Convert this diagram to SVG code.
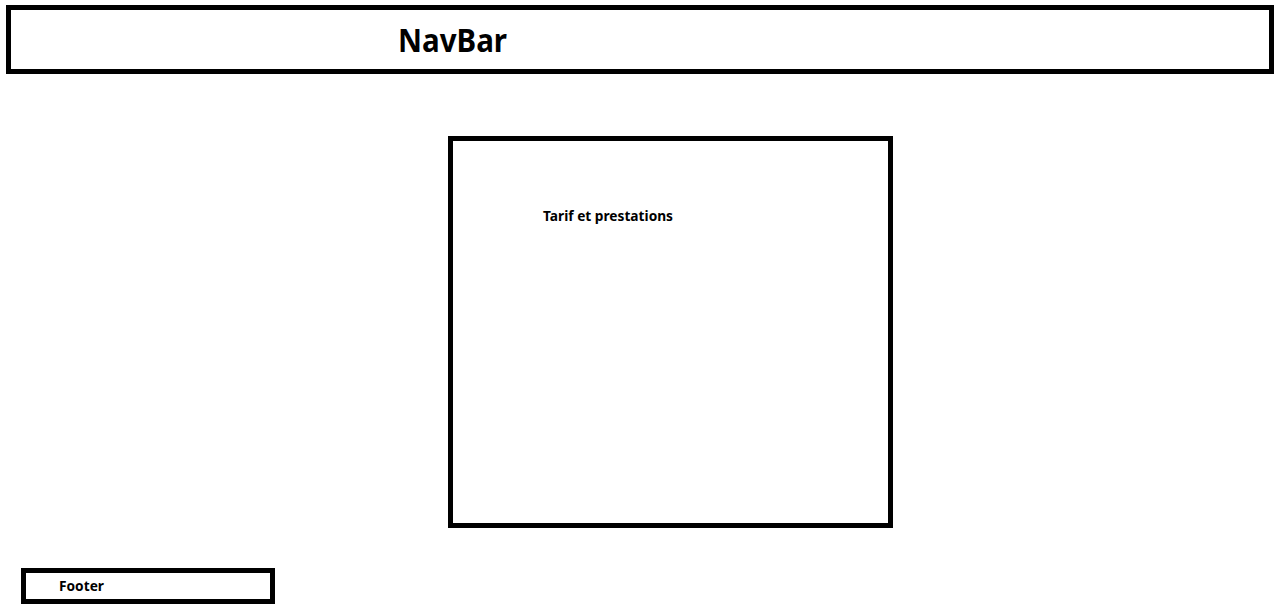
<svg xmlns="http://www.w3.org/2000/svg" width="1283" height="611" viewBox="0 0 1283 611">
<style>
.box{fill:#fff;stroke:#000;stroke-width:5}
.t{font-family:"Noto Sans","Open Sans","DejaVu Sans",sans-serif;font-weight:bold;fill:#000}
</style>
<rect width="1283" height="611" fill="#fff"/>
<g id="navbar">
<rect class="box" x="8.5" y="7.5" width="1263" height="64"/>
<text class="t" x="398" y="51.5" font-size="33" textLength="109" lengthAdjust="spacingAndGlyphs">NavBar</text>
</g>
<g id="content">
<rect class="box" x="450.5" y="138.5" width="440" height="387"/>
<text class="t" x="543" y="221" font-size="13.5" textLength="130" lengthAdjust="spacingAndGlyphs">Tarif et prestations</text>
</g>
<g id="footer">
<rect class="box" x="23.5" y="570.5" width="249" height="31"/>
<text class="t" x="59" y="591" font-size="13.5" textLength="45" lengthAdjust="spacingAndGlyphs">Footer</text>
</g>
<g id="connectors"/>
</svg>
